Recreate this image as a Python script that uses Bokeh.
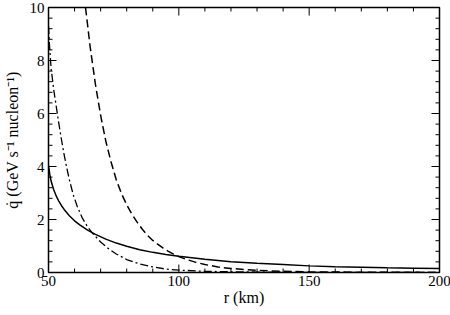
from bokeh.plotting import figure
from bokeh.models import FixedTicker, Range1d
from bokeh.embed import file_html
from bokeh.resources import INLINE

# Solid curve
r_solid = [50, 50.5, 51, 52, 53, 54, 55, 56, 58, 60, 62, 65, 68, 72, 76, 80, 85, 90, 95, 100,
           110, 120, 130, 140, 150, 160, 170, 180, 190, 200]
q_solid = [4.03, 3.7, 3.45, 3.12, 2.88, 2.68, 2.52, 2.38, 2.14, 1.95, 1.8, 1.6, 1.44, 1.26, 1.11, 0.99, 0.86, 0.76, 0.68, 0.61,
           0.50, 0.41, 0.35, 0.30, 0.25, 0.22, 0.2, 0.18, 0.165, 0.15]

# Dashed curve
r_dash = [64.2, 66, 68, 70, 72, 74, 76, 78, 80, 82, 84, 86, 88, 90, 92, 94, 96, 98, 100,
          103, 106, 110, 115, 120, 130, 140, 150, 175, 200]
q_dash = [10, 8.5, 7.1, 5.93, 4.95, 4.17, 3.5, 2.98, 2.55, 2.2, 1.9, 1.63, 1.4, 1.21, 1.06, 0.92, 0.8, 0.69, 0.6,
          0.49, 0.4, 0.3, 0.21, 0.15, 0.08, 0.045, 0.025, 0.008, 0.003]

# Dash-dot curve
r_dd = [50, 50.3, 51, 52, 53, 54, 55, 56, 57, 58, 59.5, 61, 63, 65, 67, 70, 73, 76, 80, 85, 90, 95, 100,
        110, 120, 135, 150, 175, 200]
q_dd = [9.3, 8.7, 7.7, 6.9, 6.25, 5.6, 5.0, 4.45, 3.95, 3.5, 2.93, 2.5, 2.05, 1.72, 1.47, 1.15, 0.9, 0.7, 0.49, 0.32, 0.21, 0.13, 0.09,
        0.045, 0.025, 0.012, 0.007, 0.003, 0.002]

x_major = [50, 100, 150, 200]
x_minor = list(range(50, 201, 10))
y_major = [0, 2, 4, 6, 8, 10]
y_minor = [round(0.4 * i, 1) for i in range(0, 26)]

FONT = "Liberation Serif"
FW, FH = 391, 265
X0, X1, Y0, Y1 = 50, 200, 0, 10

p = figure(frame_width=FW, frame_height=FH, output_backend="svg", toolbar_location=None,
           x_range=Range1d(X0, X1), y_range=Range1d(Y0, Y1),
           min_border_left=38, min_border_right=13, min_border_top=7, min_border_bottom=35)
p.xgrid.visible = False
p.ygrid.visible = False
p.outline_line_color = "black"
p.outline_line_width = 1.5
p.background_fill_color = "white"
p.border_fill_color = "white"

for ax in (p.xaxis[0], p.yaxis[0]):
    ax.major_tick_in = 0
    ax.major_tick_out = 0
    ax.minor_tick_in = 0
    ax.minor_tick_out = 0
    ax.axis_line_color = None
    ax.major_label_text_font = FONT
    ax.major_label_text_font_size = "15px"
    ax.major_label_text_color = "black"
    ax.axis_label_text_font = FONT
    ax.axis_label_text_font_size = "16px"
    ax.axis_label_text_font_style = "normal"
    ax.axis_label_text_color = "black"

xa = p.xaxis[0]
xa.ticker = FixedTicker(ticks=x_major)
xa.axis_label = "r (km)"
xa.major_label_standoff = 3
xa.axis_label_standoff = 0

ya = p.yaxis[0]
ya.ticker = FixedTicker(ticks=y_major)
ya.axis_label = "q̇ (GeV s⁻¹ nucleon⁻¹)"
ya.major_label_standoff = 4
ya.axis_label_standoff = 6

# inward tick marks on all four sides (lengths in pixels converted to data units)
dx = (X1 - X0) / FW
dy = (Y1 - Y0) / FH
def tick_segments(vals, length, axis):
    x0, y0, x1, y1 = [], [], [], []
    for v in vals:
        if axis == "x":
            x0 += [v, v]; x1 += [v, v]
            y0 += [Y0, Y1]; y1 += [Y0 + length * dy, Y1 - length * dy]
        else:
            y0 += [v, v]; y1 += [v, v]
            x0 += [X0, X1]; x1 += [X0 + length * dx, X1 - length * dx]
    return x0, y0, x1, y1

for vals, ln, ax in ((x_major, 8, "x"), ([m for m in x_minor if m not in x_major], 4, "x"),
                     (y_major, 8, "y"), ([m for m in y_minor if m not in y_major], 4, "y")):
    a, b, c, d = tick_segments(vals, ln, ax)
    p.segment(a, b, c, d, line_color="black", line_width=1)

p.line(r_solid, q_solid, line_color="black", line_width=1.5)
p.line(r_dash, q_dash, line_color="black", line_width=1.5, line_dash="8 4")
p.line(r_dd, q_dd, line_color="black", line_width=1.3, line_dash="8 3 2 3")

open("out.html", "w").write(file_html(p, INLINE))
